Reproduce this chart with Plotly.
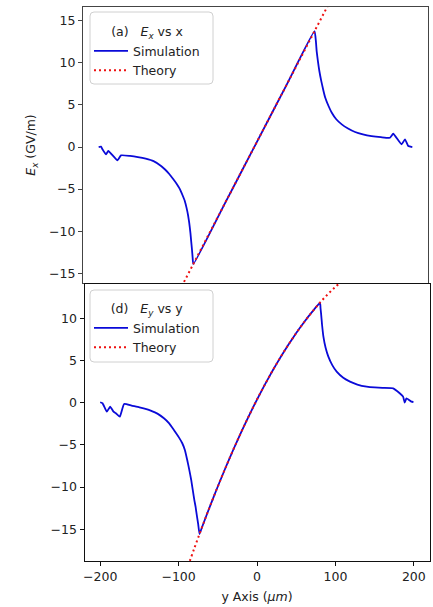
import plotly.graph_objects as go

# ---------------- data ----------------
# Panel (a): Ex vs x
sim_a_x = [-200, -197, -195, -190.6, -187.7, -176, -171.5, -160, -150, -140, -130, -120, -115,
           -110, -105, -100, -97.5, -95, -92.5, -90.2, -88, -86, -84.5, -83, -82, -81, -80.2,
           -79.3, -40, 0, 40, 75.3,
           77, 78, 79.6, 81.5, 83.9, 86.5, 89, 93, 97.3, 103, 110, 118, 127, 137, 148, 160,
           171.5, 175.7, 186.3, 190.6, 194.8, 200]
sim_a_y = [0.0, 0.05, -0.3, -0.87, -0.47, -1.58, -0.99, -1.06, -1.19, -1.38, -1.68, -2.28, -2.7,
           -3.2, -3.8, -4.45, -4.83, -5.3, -5.85, -6.4, -7.2, -8.1, -9.0, -10.2, -11.2, -12.2, -13.1,
           -13.9, -6.87, 0.29, 7.44, 13.76,
           12.57, 11.4, 10.2, 9.0, 7.83, 6.75, 5.85, 4.9, 4.07, 3.3, 2.69, 2.2, 1.78, 1.5, 1.3, 1.17,
           1.1, 1.58, 0.32, 0.91, 0.12, 0.0]
theory_a_x = [-100, -50, 0, 50, 100]
theory_a_y = [-17.6, -8.66, 0.29, 9.23, 18.18]

# Panel (d): Ey vs y
sim_d_x = [-200, -197, -191.5, -187.3, -183, -180, -175, -169.5, -160, -150, -140, -135.6, -127,
           -118.7, -112, -106, -100, -95.3, -92, -89, -86.5, -83.9, -81.5, -79.8, -78.4, -76.5,
           -75, -73.3, -70, -60, -50, -40, -30, -20, -10, 0, 10, 20, 30, 40, 50, 60, 70, 80.4,
           81, 81.7, 83, 84.7, 87.5, 91, 96, 101.6, 110, 118.6, 128, 139.8, 150, 160, 173.6,
           182, 186.3, 188.4, 190.6, 194, 197, 199.5]
sim_d_y = [0.05, -0.07, -1.07, -0.47, -1.07, -1.26, -1.66, -0.15, -0.35, -0.55, -0.8, -0.95, -1.3,
           -1.85, -2.45, -3.23, -4.05, -4.81, -5.6, -6.79, -7.9, -9.16, -10.6, -11.6, -12.3, -13.5,
           -14.4, -15.56, -14.73, -12.28, -9.93, -7.68, -5.52, -3.46, -1.5, 0.37, 2.13, 3.81, 5.39,
           6.86, 8.25, 9.53, 10.72, 11.85,
           11.2, 10.59, 9.2, 7.82, 6.5, 5.45, 4.45, 3.67, 2.95, 2.49, 2.15, 1.9, 1.8, 1.75, 1.7,
           1.11, 0.71, 0.0, 0.52, 0.32, 0.12, 0.08]
theory_d_x = [-90, -80, -70, -60, -50, -40, -30, -20, -10, 0, 10, 20, 30, 40, 50, 60, 70, 80,
              90, 100, 110]
theory_d_y = [-19.91, -17.27, -14.73, -12.28, -9.93, -7.68, -5.52, -3.46, -1.5, 0.37, 2.13,
              3.81, 5.39, 6.86, 8.25, 9.53, 10.72, 11.82, 12.82, 13.72, 14.52]

x_ticks = [-200, -100, 0, 100, 200]
y_ticks_a = [-15, -10, -5, 0, 5, 10, 15]
y_ticks_d = [-15, -10, -5, 0, 5, 10]

# ---------------- layout helpers ----------------
W, H = 433, 607
FONT = "DejaVu Sans"
FS = 12.5


def px_x(p):
    return p / W


def px_y(p):
    return 1 - p / H


def rounded_box(x0, y0, x1, y1, r=4):
    X = lambda v: px_x(v)
    Y = lambda v: px_y(v)
    return (f"M {X(x0 + r)},{Y(y0)} L {X(x1 - r)},{Y(y0)} Q {X(x1)},{Y(y0)} {X(x1)},{Y(y0 + r)} "
            f"L {X(x1)},{Y(y1 - r)} Q {X(x1)},{Y(y1)} {X(x1 - r)},{Y(y1)} "
            f"L {X(x0 + r)},{Y(y1)} Q {X(x0)},{Y(y1)} {X(x0)},{Y(y1 - r)} "
            f"L {X(x0)},{Y(y0 + r)} Q {X(x0)},{Y(y0)} {X(x0 + r)},{Y(y0)} Z")


BLUE = "#0a0ad8"
RED = "#ee1111"
sim_line = dict(color=BLUE, width=1.8, shape="spline", smoothing=0.4)
th_line = dict(color=RED, width=2, dash="2px,3px")

fig = go.Figure()
fig.add_trace(go.Scatter(x=sim_a_x, y=sim_a_y, mode="lines", name="Simulation",
                         line=sim_line, xaxis="x", yaxis="y", legend="legend"))
fig.add_trace(go.Scatter(x=theory_a_x, y=theory_a_y, mode="lines", name="Theory",
                         line=th_line, xaxis="x", yaxis="y", legend="legend"))
fig.add_trace(go.Scatter(x=sim_d_x, y=sim_d_y, mode="lines", name="Simulation",
                         line=sim_line, xaxis="x2", yaxis="y2", legend="legend2"))
fig.add_trace(go.Scatter(x=theory_d_x, y=theory_d_y, mode="lines", name="Theory",
                         line=dict(th_line, shape="spline"), xaxis="x2", yaxis="y2",
                         legend="legend2"))

axis_common = dict(showgrid=False, zeroline=False, showline=True, mirror=True,
                   linewidth=1, ticks="outside", ticklen=4, tickwidth=1,
                   tickfont=dict(family=FONT, size=FS, color="#222"))

fig.update_layout(
    width=W, height=H,
    margin=dict(l=0, r=0, t=0, b=0),
    paper_bgcolor="white", plot_bgcolor="white",
    font=dict(family=FONT, size=FS, color="#222"),
    xaxis=dict(domain=[px_x(83), px_x(428)], range=[-220, 220], anchor="y",
               showgrid=False, zeroline=False, showline=True, mirror=True, linewidth=1,
               linecolor="#444", showticklabels=False, ticks=""),
    yaxis=dict(domain=[px_y(283), px_y(7)], range=[-16.15, 16.63], anchor="x",
               tickvals=y_ticks_a, linecolor="#444", tickcolor="#444",
               title=dict(text="<i>E<sub>x</sub></i> (GV/m)", standoff=10,
                          font=dict(family=FONT, size=FS)),
               **axis_common),
    xaxis2=dict(domain=[px_x(84.5), px_x(429.5)], range=[-220, 220], anchor="y2",
                tickvals=x_ticks, linecolor="#111", tickcolor="#111",
                title=dict(text="y Axis (<i>μm</i>)", standoff=9,
                           font=dict(family=FONT, size=FS)),
                **axis_common),
    yaxis2=dict(domain=[px_y(561), px_y(284)], range=[-18.76, 14.06], anchor="x2",
                tickvals=y_ticks_d, linecolor="#111", tickcolor="#111", **axis_common),
    legend=dict(x=px_x(89), y=px_y(20), xanchor="left", yanchor="top",
                bgcolor="rgba(0,0,0,0)", borderwidth=0, itemwidth=34,
                font=dict(family=FONT, size=FS),
                title=dict(text="(a)   <i>E<sub>x</sub></i> vs x", side="top center",
                           font=dict(family=FONT, size=FS))),
    legend2=dict(x=px_x(89), y=px_y(297), xanchor="left", yanchor="top",
                 bgcolor="rgba(0,0,0,0)", borderwidth=0, itemwidth=34,
                 font=dict(family=FONT, size=FS),
                 title=dict(text="(d)   <i>E<sub>y</sub></i> vs y", side="top center",
                            font=dict(family=FONT, size=FS))),
    shapes=[
        dict(type="path", xref="paper", yref="paper", path=rounded_box(90, 12, 213, 84),
             line=dict(color="#d0d0d0", width=1), fillcolor="rgba(255,255,255,0.8)", layer="above"),
        dict(type="path", xref="paper", yref="paper", path=rounded_box(90, 290, 213, 362),
             line=dict(color="#d0d0d0", width=1), fillcolor="rgba(255,255,255,0.8)", layer="above"),
    ],
)

fig.write_html("out.html")
